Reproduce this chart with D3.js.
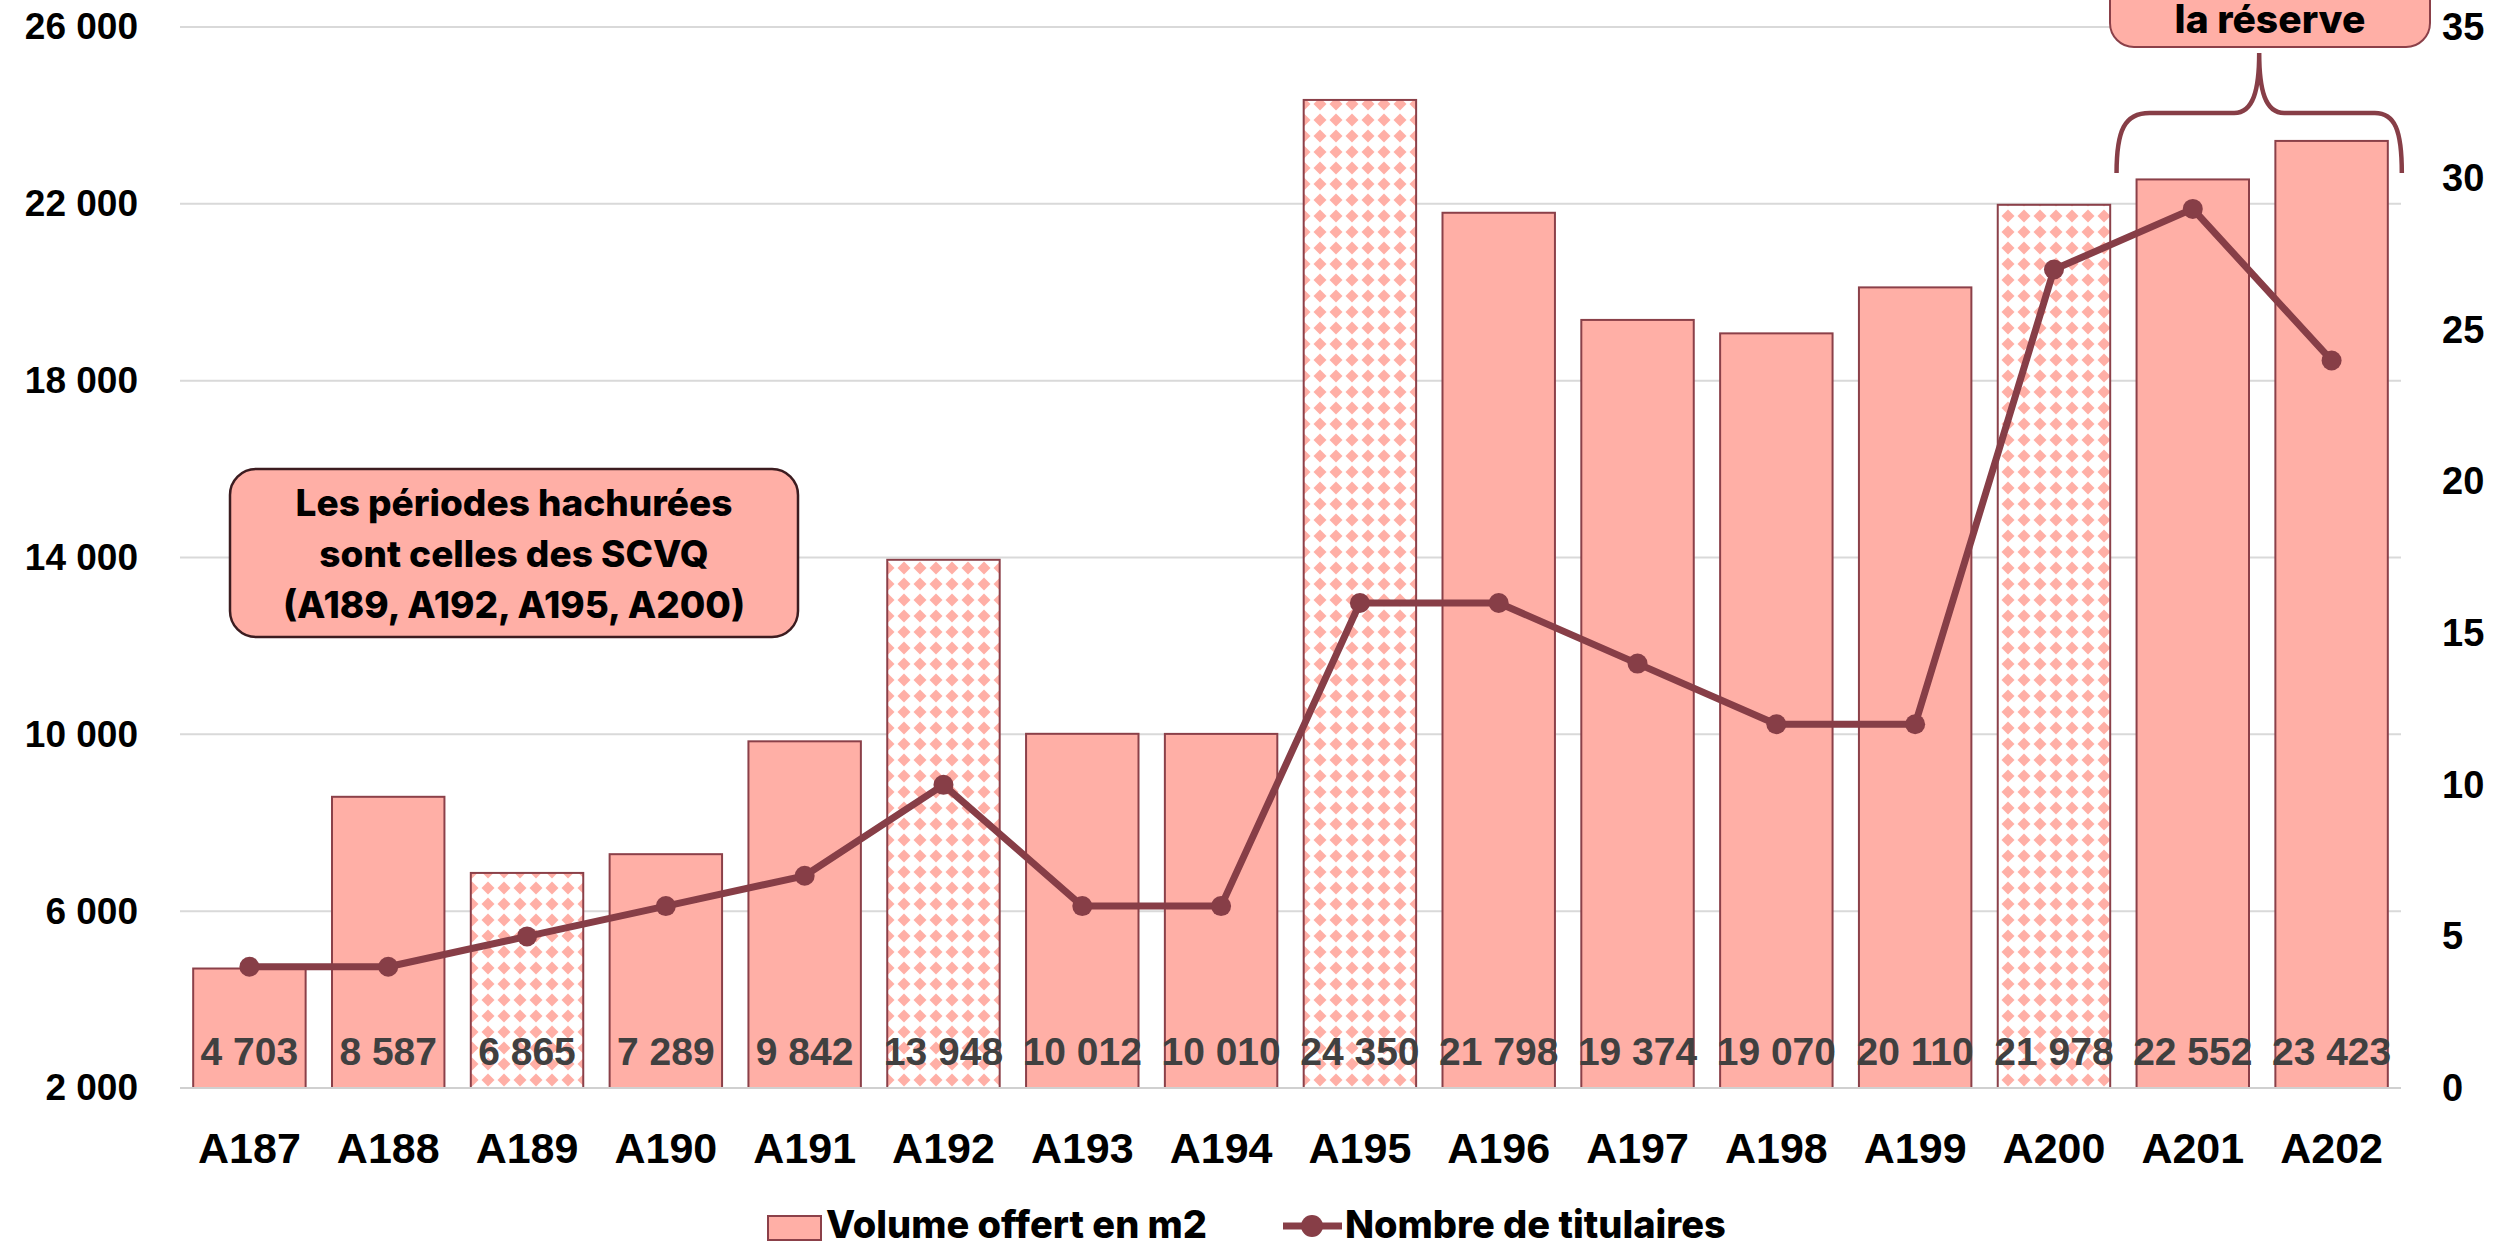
<!DOCTYPE html>
<html>
<head>
<meta charset="utf-8">
<script src="https://cdn.jsdelivr.net/npm/d3@7"></script>
<style>
    body { margin: 0; background: #ffffff; }
    .axisLabel { font-family: "Liberation Sans", Arial, sans-serif; font-weight: bold; fill: #000000; }
    .noteText { font-family: Inter, "Noto Sans", sans-serif; font-weight: 800; fill: #000000; }
</style>
</head>
<body>
<div id="chart"></div>
<script>
// data
var categories = ["A187", "A188", "A189", "A190", "A191", "A192", "A193", "A194",
    "A195", "A196", "A197", "A198", "A199", "A200", "A201", "A202"];
var volumes = [4703, 8587, 6865, 7289, 9842, 13948, 10012, 10010,
    24350, 21798, 19374, 19070, 20110, 21978, 22552, 23423];
var titulaires = [4, 4, 5, 6, 7, 10, 6, 6, 16, 16, 14, 12, 12, 27, 29, 24];
var hatched = ["A189", "A192", "A195", "A200"];
var leftTicks = [2000, 6000, 10000, 14000, 18000, 22000, 26000];
var rightTicks = [0, 5, 10, 15, 20, 25, 30, 35];
var noteLines = ["Les périodes hachurées", "sont celles des SCVQ", "(A189, A192, A195, A200)"];

var barColor = "#ffafa6";
var barStroke = "#8b4049";
var lineColor = "#873e47";

// STEP 1: SET UP THE CANVAS
var svgWidth = 2503;
var svgHeight = 1245;

var plot = { left: 180, right: 2401, top: 27, bottom: 1088 };

var svg = d3.select("#chart")
    .append("svg")
    .attr("width", svgWidth)
    .attr("height", svgHeight);

// hatch pattern (diamonds)
var defs = svg.append("defs");
var pattern = defs.append("pattern")
    .attr("id", "hatch")
    .attr("patternUnits", "userSpaceOnUse")
    .attr("width", 16)
    .attr("height", 16);
pattern.append("rect")
    .attr("width", 16)
    .attr("height", 16)
    .attr("fill", "#ffffff");
pattern.append("polygon")
    .attr("points", "8,1.5 14.5,8 8,14.5 1.5,8")
    .attr("fill", barColor);

// STEP 2: SCALES
var xScale = d3.scaleBand()
    .domain(categories)
    .range([plot.left, plot.right])
    .paddingInner(0.19)
    .paddingOuter(0.095);

var yLeft = d3.scaleLinear()
    .domain([2000, 26000])
    .range([plot.bottom, plot.top]);

var yRight = d3.scaleLinear()
    .domain([0, 35])
    .range([plot.bottom, plot.top]);

var frLocale = d3.formatLocale({ decimal: ",", thousands: " ", grouping: [3], currency: ["", " €"] });
var numFormat = frLocale.format(",d");

// STEP 3: GRIDLINES
svg.append("g")
    .selectAll("line")
    .data(leftTicks)
    .enter()
    .append("line")
    .attr("x1", plot.left)
    .attr("x2", plot.right)
    .attr("y1", d => yLeft(d))
    .attr("y2", d => yLeft(d))
    .attr("stroke", "#d9d9d9")
    .attr("stroke-width", 2);

// STEP 4: AXES
var leftAxis = d3.axisLeft(yLeft)
    .tickValues(leftTicks)
    .tickSize(0)
    .tickPadding(42)
    .tickFormat(numFormat);

var rightAxis = d3.axisRight(yRight)
    .tickValues(rightTicks)
    .tickSize(0)
    .tickPadding(41);

var bottomAxis = d3.axisBottom(xScale)
    .tickSize(0);

var gLeft = svg.append("g")
    .attr("transform", `translate(${plot.left}, 0)`)
    .call(leftAxis);

var gRight = svg.append("g")
    .attr("transform", `translate(${plot.right}, 0)`)
    .call(rightAxis);

var gBottom = svg.append("g")
    .attr("transform", `translate(0, ${plot.bottom})`)
    .call(bottomAxis);

[gLeft, gRight, gBottom].forEach(function(g) {
    g.select(".domain").remove();
    g.attr("font-family", null).attr("font-size", null);
    g.selectAll("text")
        .attr("class", "axisLabel")
        .attr("fill", null);
});
gLeft.selectAll("text").style("font-size", "37px");
gRight.selectAll("text").style("font-size", "38px");
gBottom.selectAll("text")
    .style("font-size", "43px")
    .attr("dy", null)
    .attr("y", 75);

// STEP 5: BARS
svg.append("g")
    .selectAll("rect")
    .data(categories)
    .enter()
    .append("rect")
    .attr("x", d => xScale(d))
    .attr("y", (d, i) => yLeft(volumes[i]))
    .attr("width", xScale.bandwidth())
    .attr("height", (d, i) => yLeft(2000) - yLeft(volumes[i]))
    .attr("fill", d => hatched.includes(d) ? "url(#hatch)" : barColor)
    .attr("stroke", barStroke)
    .attr("stroke-width", 2);

// bar value labels (inside base)
svg.append("g")
    .selectAll("text")
    .data(categories)
    .enter()
    .append("text")
    .attr("class", "axisLabel")
    .attr("x", d => xScale(d) + xScale.bandwidth() / 2)
    .attr("y", plot.bottom - 23)
    .attr("text-anchor", "middle")
    .style("font-size", "39px")
    .style("fill", "#404040")
    .text((d, i) => numFormat(volumes[i]));

// baseline
svg.append("line")
    .attr("x1", plot.left)
    .attr("x2", plot.right)
    .attr("y1", plot.bottom)
    .attr("y2", plot.bottom)
    .attr("stroke", "#d0d0d0")
    .attr("stroke-width", 2);

// STEP 6: LINE
var line = d3.line()
    .x((d, i) => xScale(categories[i]) + xScale.bandwidth() / 2)
    .y(d => yRight(d));

svg.append("path")
    .datum(titulaires)
    .attr("d", line)
    .attr("fill", "none")
    .attr("stroke", lineColor)
    .attr("stroke-width", 7)
    .attr("stroke-linejoin", "round");

svg.append("g")
    .selectAll("circle")
    .data(titulaires)
    .enter()
    .append("circle")
    .attr("cx", (d, i) => xScale(categories[i]) + xScale.bandwidth() / 2)
    .attr("cy", d => yRight(d))
    .attr("r", 10)
    .attr("fill", lineColor);

// STEP 7: ANNOTATIONS
// left note box
var noteBox = svg.append("g");
noteBox.append("rect")
    .attr("x", 230)
    .attr("y", 469)
    .attr("width", 568)
    .attr("height", 168)
    .attr("rx", 26)
    .attr("fill", barColor)
    .attr("stroke", "#3c1c20")
    .attr("stroke-width", 2.5);
noteBox.selectAll("text")
    .data(noteLines)
    .enter()
    .append("text")
    .attr("class", "noteText")
    .attr("x", 514)
    .attr("y", (d, i) => 516 + i * 51)
    .attr("text-anchor", "middle")
    .style("font-size", "37px")
    .text(d => d);

// top right box (cut by the top edge)
var topBox = svg.append("g");
topBox.append("rect")
    .attr("x", 2110)
    .attr("y", -70)
    .attr("width", 320)
    .attr("height", 117)
    .attr("rx", 24)
    .attr("fill", barColor)
    .attr("stroke", barStroke)
    .attr("stroke-width", 2);
topBox.append("text")
    .attr("class", "noteText")
    .attr("x", 2270)
    .attr("y", 33)
    .attr("text-anchor", "middle")
    .style("font-size", "39px")
    .text("la réserve");

// curly brace over A201 - A202
var bx0 = xScale("A201") - 20;
var bx1 = xScale("A202") + xScale.bandwidth() + 14;
var bmid = (bx0 + bx1) / 2;
svg.append("path")
    .attr("d", `M${bx0},173 C${bx0},130 ${bx0 + 8},113 ${bx0 + 33},113 L${bmid - 25},113 ` +
        `C${bmid - 6},113 ${bmid},90 ${bmid},53 C${bmid},90 ${bmid + 6},113 ${bmid + 25},113 ` +
        `L${bx1 - 27},113 C${bx1 - 7},113 ${bx1},130 ${bx1},173`)
    .attr("fill", "none")
    .attr("stroke", lineColor)
    .attr("stroke-width", 4.5);

// STEP 8: LEGEND
var legend = svg.append("g");
legend.append("rect")
    .attr("x", 768)
    .attr("y", 1216)
    .attr("width", 53)
    .attr("height", 24)
    .attr("fill", barColor)
    .attr("stroke", barStroke)
    .attr("stroke-width", 2);
legend.append("text")
    .attr("class", "noteText")
    .attr("x", 826)
    .attr("y", 1238)
    .style("font-size", "38px")
    .text("Volume offert en m2");
legend.append("line")
    .attr("x1", 1283)
    .attr("x2", 1342)
    .attr("y1", 1226)
    .attr("y2", 1226)
    .attr("stroke", lineColor)
    .attr("stroke-width", 7);
legend.append("circle")
    .attr("cx", 1312)
    .attr("cy", 1226)
    .attr("r", 11)
    .attr("fill", lineColor);
legend.append("text")
    .attr("class", "noteText")
    .attr("x", 1345)
    .attr("y", 1238)
    .style("font-size", "38px")
    .text("Nombre de titulaires");
</script>
</body>
</html>
